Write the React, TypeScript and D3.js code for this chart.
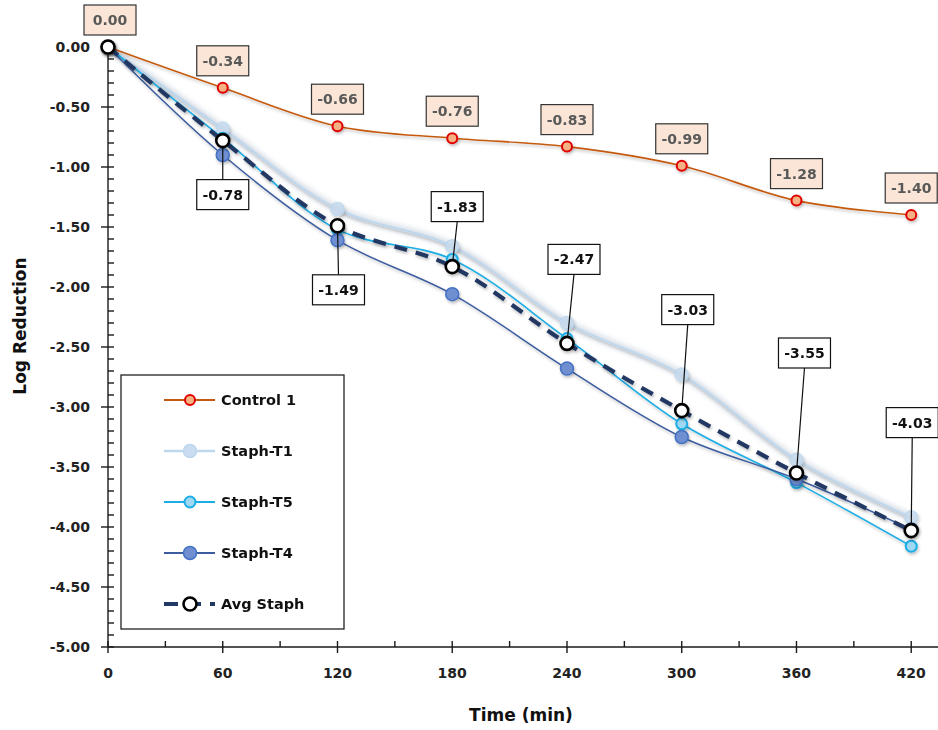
import React from "react";
import * as d3 from "d3";

const times = [0, 60, 120, 180, 240, 300, 360, 420];
const control1 = [0, -0.34, -0.66, -0.76, -0.83, -0.99, -1.28, -1.4];
const staphT1 = [0, -0.68, -1.35, -1.66, -2.3, -2.73, -3.44, -3.92];
const staphT5 = [0, -0.76, -1.52, -1.77, -2.43, -3.14, -3.63, -4.16];
const staphT4 = [0, -0.9, -1.61, -2.06, -2.68, -3.25, -3.6, -4.02];
const avgStaph = [0, -0.78, -1.49, -1.83, -2.47, -3.03, -3.55, -4.03];
const xTicks = [0, 60, 120, 180, 240, 300, 360, 420];
const yTicks = [0, -0.5, -1, -1.5, -2, -2.5, -3, -3.5, -4, -4.5, -5];
const legendNames = ["Control 1", "Staph-T1", "Staph-T5", "Staph-T4", "Avg Staph"];

// label layout offsets (pixels) for the Avg Staph callouts
const avgLabelOffsets: [number, number][] = [
  [0, -27], [0, 54], [1, 64], [5, -60], [7, -84], [6, -101], [8, -120], [1, -108],
];

const FONT = "'DejaVu Sans', sans-serif";

export default function App() {
  const W = 938, H = 730;
  const x = d3.scaleLinear().domain([0, 434]).range([108, 938]);
  const y = d3.scaleLinear().domain([-5, 0]).range([647, 47]);
  const curve = d3.curveCatmullRom.alpha(0.5);
  const line = d3.line<number>().x((_, i) => x(times[i])).y((d) => y(d)).curve(curve);

  const minorY = d3.range(0, 51).map((i) => -i / 10).filter((v) => Math.abs(Math.round(v * 2) - v * 2) > 1e-6);
  const minorX = d3.range(30, 434, 60);

  const series = [
    { name: "Control 1", data: control1, stroke: "#C55A11", width: 1.6, mFill: "#F4B183", mStroke: "#E00000", r: 5, mw: 2 },
    { name: "Staph-T1", data: staphT1, stroke: "#BDD7EE", width: 2, mFill: "#C9DCF0", mStroke: "#BDD7EE", r: 6.5, mw: 1.5 },
    { name: "Staph-T5", data: staphT5, stroke: "#1CADE4", width: 1.6, mFill: "#9ED8F2", mStroke: "#1CADE4", r: 5.5, mw: 2 },
    { name: "Staph-T4", data: staphT4, stroke: "#3B5C9E", width: 1.5, mFill: "#6F8FD0", mStroke: "#4472C4", r: 6.5, mw: 1.5 },
  ];

  const boxW = 52, boxH = 30;

  return (
    <svg width={W} height={H} style={{ position: "absolute", left: 0, top: 0, background: "#fff" }} fontFamily={FONT}>
      <defs>
        <filter id="sh" x="-10%" y="-10%" width="120%" height="130%">
          <feDropShadow dx="1" dy="2" stdDeviation="1.6" floodColor="#000" floodOpacity="0.25" />
        </filter>
        <filter id="blur" x="-10%" y="-10%" width="120%" height="130%">
          <feGaussianBlur stdDeviation="2" />
        </filter>
      </defs>

      {/* axes */}
      <g stroke="#1a1a1a" strokeWidth={1.4}>
        <line x1={x(0)} x2={x(0)} y1={y(0)} y2={y(-5)} />
        <line x1={x(0)} x2={938} y1={y(-5)} y2={y(-5)} />
        {yTicks.map((t) => (
          <line key={"ym" + t} x1={x(0) - 7} x2={x(0) + 6} y1={y(t)} y2={y(t)} />
        ))}
        {minorY.map((t) => (
          <line key={"yn" + t} x1={x(0)} x2={x(0) + 6} y1={y(t)} y2={y(t)} />
        ))}
        {xTicks.map((t) => (
          <line key={"xm" + t} x1={x(t)} x2={x(t)} y1={y(-5) - 6} y2={y(-5) + 6} />
        ))}
        {minorX.map((t) => (
          <line key={"xn" + t} x1={x(t)} x2={x(t)} y1={y(-5) - 6} y2={y(-5)} />
        ))}
      </g>
      <g fontSize={14} fontWeight="bold" fill="#222">
        {yTicks.map((t) => (
          <text key={"yl" + t} x={x(0) - 18} y={y(t)} dy="0.36em" textAnchor="end">
            {d3.format(".2f")(t).replace("−", "-")}
          </text>
        ))}
        {xTicks.map((t) => (
          <text key={"xl" + t} x={x(t)} y={y(-5) + 26} dy="0.36em" textAnchor="middle">
            {t}
          </text>
        ))}
      </g>
      <text x={521} y={721} fontSize={17} fontWeight="bold" textAnchor="middle" fill="#111">Time (min)</text>
      <text transform="translate(26,326) rotate(-90)" fontSize={17} fontWeight="bold" textAnchor="middle" fill="#111">Log Reduction</text>

      {/* T1 halo */}
      <path d={line(staphT1) || ""} fill="none" stroke="#B8C4D4" strokeWidth={9} opacity={0.4} filter="url(#blur)" />

      {series.map((s) => (
        <g key={s.name}>
          <path d={line(s.data) || ""} fill="none" stroke={s.stroke} strokeWidth={s.width} filter="url(#sh)" />
        </g>
      ))}
      {series.map((s) => (
        <g key={s.name + "m"} filter="url(#sh)">
          {s.data.map((v, i) => (
            <circle key={i} cx={x(times[i])} cy={y(v)} r={s.r} fill={s.mFill} stroke={s.mStroke} strokeWidth={s.mw} opacity={s.name === "Staph-T1" ? 0.85 : 1} />
          ))}
        </g>
      ))}

      {/* Avg Staph dashed line */}
      <path d={line(avgStaph) || ""} fill="none" stroke="#203864" strokeWidth={4.2} strokeDasharray="13 9" filter="url(#sh)" />

      {/* Avg leader lines */}
      <g stroke="#111" strokeWidth={1.2}>
        {avgStaph.map((v, i) => {
          if (i === 0) return null;
          const [dx, dy] = avgLabelOffsets[i];
          const px = x(times[i]), py = y(v);
          const bx = px + dx, by = py + dy + (dy > 0 ? -boxH / 2 : boxH / 2);
          return <line key={i} x1={bx} y1={by} x2={px} y2={py} />;
        })}
      </g>
      <g filter="url(#sh)">
        {avgStaph.map((v, i) => (
          <circle key={i} cx={x(times[i])} cy={y(v)} r={6.5} fill="#fff" stroke="#000" strokeWidth={2.6} />
        ))}
      </g>

      {/* Control labels */}
      <g fontSize={14} fontWeight="bold">
        {control1.map((v, i) => {
          const cx = x(times[i]) + (i === 0 ? 2 : 0), cy = y(v) - 27;
          return (
            <g key={i}>
              <rect x={cx - boxW / 2} y={cy - boxH / 2} width={boxW} height={boxH} fill="#FBE5D6" stroke="#333" strokeWidth={1.2} />
              <text x={cx} y={cy} dy="0.36em" textAnchor="middle" fill="#595959">{d3.format(".2f")(v).replace("−", "-")}</text>
            </g>
          );
        })}
        {avgStaph.map((v, i) => {
          if (i === 0) return null;
          const [dx, dy] = avgLabelOffsets[i];
          const cx = x(times[i]) + dx, cy = y(v) + dy;
          return (
            <g key={"a" + i}>
              <rect x={cx - boxW / 2} y={cy - boxH / 2} width={boxW} height={boxH} fill="#fff" stroke="#111" strokeWidth={1.2} />
              <text x={cx} y={cy} dy="0.36em" textAnchor="middle" fill="#111">{d3.format(".2f")(v).replace("−", "-")}</text>
            </g>
          );
        })}
      </g>

      {/* Legend */}
      <g>
        <rect x={121} y={375} width={223} height={254} fill="#fff" stroke="#222" strokeWidth={1.3} />
        {legendNames.map((n, i) => {
          const ly = 400 + i * 51;
          const s = series[i];
          return (
            <g key={n}>
              {s ? (
                <>
                  <line x1={164} x2={215} y1={ly} y2={ly} stroke={s.stroke} strokeWidth={s.width + 0.4} />
                  <circle cx={190} cy={ly} r={s.r} fill={s.mFill} stroke={s.mStroke} strokeWidth={s.mw} />
                </>
              ) : (
                <>
                  <line x1={164} x2={215} y1={ly} y2={ly} stroke="#203864" strokeWidth={4.2} strokeDasharray="14 9" />
                  <circle cx={190} cy={ly} r={6.5} fill="#fff" stroke="#000" strokeWidth={2.6} />
                </>
              )}
              <text x={221} y={ly} dy="0.36em" fontSize={14.5} fontWeight="bold" fill="#111">{n}</text>
            </g>
          );
        })}
      </g>
    </svg>
  );
}
